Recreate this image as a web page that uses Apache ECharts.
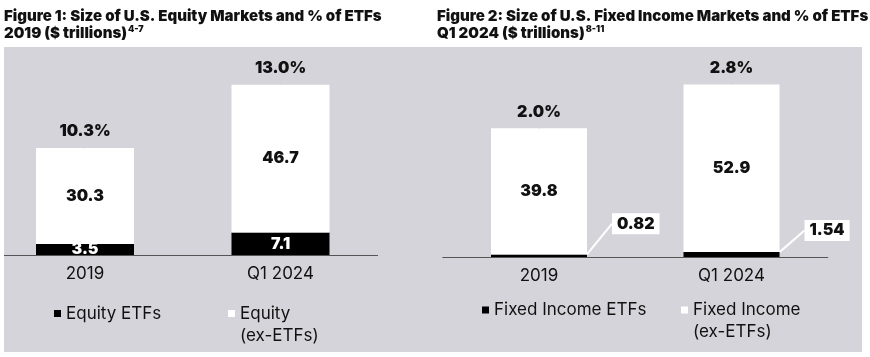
<!DOCTYPE html>
<html>
<head>
<meta charset="utf-8">
<script src="https://cdn.jsdelivr.net/npm/echarts@6/dist/echarts.min.js"></script>
<style>
html,body{margin:0;padding:0;background:#fff;}
#c{width:870px;height:357px;}
</style>
</head>
<body>
<div id="c"></div>
<script>
// ---- data ----
const categories = ['2019', 'Q1 2024'];
const equityEtf = [3.5, 7.1];
const equityEx = [30.3, 46.7];
const equityPct = ['10.3%', '13.0%'];
const fiEtf = [0.82, 1.54];
const fiEx = [39.8, 52.9];
const fiPct = ['2.0%', '2.8%'];

const FONT = 'Inter, "Noto Sans", sans-serif';
const INK = '#111111';
const PANEL = '#d5d4da';

const equityTotal = equityEtf.map((v, i) => +(v + equityEx[i]).toFixed(2));
const fiTotal = fiEtf.map((v, i) => +(v + fiEx[i]).toFixed(2));

const chart = echarts.init(document.getElementById('c'), null, {renderer: 'canvas'});

const boldLabel = {fontFamily: FONT, fontWeight: 900, fontSize: 16, textBorderWidth: 0, opacity: 1};

function legendCfg(name, left, top, multi) {
  return {
    data: [name],
    left: left, top: top, padding: 0,
    itemWidth: 7, itemHeight: 7, icon: 'rect',
    selectedMode: false,
    formatter: multi ? function (n) {
      const parts = n.split('\n');
      return '{s| }\n{t|' + parts[0] + '}\n{t|' + parts[1] + '}';
    } : undefined,
    textStyle: {
      fontFamily: FONT, fontSize: 17, color: INK, lineHeight: 22,
      rich: {
        s: {fontSize: 10, lineHeight: 22},
        t: {fontFamily: FONT, fontSize: 17, color: INK, lineHeight: 22}
      }
    }
  };
}

const titleRich = {
  a: {fontFamily: FONT, fontWeight: 900, fontSize: 15, color: INK, lineHeight: 17},
  sup: {fontFamily: FONT, fontWeight: 900, fontSize: 9, color: INK, lineHeight: 17, verticalAlign: 'top', padding: [0, 0, 4, 1]}
};

const option = {
  animation: false,
  backgroundColor: '#fff',
  graphic: [
    {type: 'rect', z: -10, silent: true, shape: {x: 4, y: 47, width: 858, height: 305}, style: {fill: PANEL}},
    {type: 'line', z: 5, silent: true, shape: {x1: 4, y1: 255.5, x2: 378, y2: 255.5}, style: {stroke: '#555', lineWidth: 1}}
  ],
  title: [
    {left: 4, top: 8, padding: 0, text: '{a|Figure 1: Size of U.S. Equity Markets and % of ETFs}\n{a|2019 ($ trillions)}{sup|4-7}', textStyle: {rich: titleRich}},
    {left: 437, top: 8, padding: 0, text: '{a|Figure 2: Size of U.S. Fixed Income Markets and % of ETFs}\n{a|Q1 2024 ($ trillions)}{sup|8-11}', textStyle: {rich: titleRich}}
  ],
  legend: [
    legendCfg('Equity ETFs', 54, 302.5, false),
    legendCfg('Equity\n(ex-ETFs)', 228, 280.5, true),
    legendCfg('Fixed Income ETFs', 482, 299, false),
    legendCfg('Fixed Income\n(ex-ETFs)', 681, 277, true)
  ],
  grid: [
    {left: -12.75, width: 391, top: 65, height: 190, containLabel: false, outerBoundsMode: 'none'},
    {left: 442.75, width: 385, top: 67, height: 190, containLabel: false, outerBoundsMode: 'none'}
  ],
  xAxis: [0, 1].map(i => ({
    type: 'category', gridIndex: i, data: categories,
    axisLine: {show: i === 1, lineStyle: {color: '#555', width: 1}},
    axisTick: {show: false},
    axisLabel: {fontFamily: FONT, fontSize: 17, color: INK, margin: 10}
  })),
  yAxis: [0, 1].map(i => ({
    type: 'value', gridIndex: i, min: 0, max: 60, show: false, splitLine: {show: false}
  })),
  series: [
    {
      name: 'Equity ETFs', type: 'bar', stack: 'eq', xAxisIndex: 0, yAxisIndex: 0,
      barWidth: 98, data: equityEtf, itemStyle: {color: '#000'},
      label: Object.assign({show: true, position: 'inside', color: '#fff'}, boldLabel)
    },
    {
      name: 'Equity\n(ex-ETFs)', type: 'bar', stack: 'eq', xAxisIndex: 0, yAxisIndex: 0,
      barWidth: 98, data: equityEx, itemStyle: {color: '#fff'},
      label: Object.assign({show: true, position: 'inside', color: INK}, boldLabel)
    },
    {
      name: 'eqPct', type: 'scatter', xAxisIndex: 0, yAxisIndex: 0, symbolSize: 1,
      itemStyle: {color: PANEL, opacity: 1}, silent: true,
      data: equityTotal,
      label: Object.assign({show: true, position: 'top', distance: 8, color: INK,
        formatter: p => equityPct[p.dataIndex]}, boldLabel)
    },
    {
      name: 'Fixed Income ETFs', type: 'bar', stack: 'fi', xAxisIndex: 1, yAxisIndex: 1,
      barWidth: 96, data: fiEtf, itemStyle: {color: '#000'},
      label: Object.assign({show: true, position: 'right', distance: 25, color: INK,
        backgroundColor: '#fff', padding: [3, 5, 2, 5]}, boldLabel),
      labelLayout: function (params) {
        return {dy: params.dataIndex === 0 ? -32 : -24};
      },
      labelLine: {show: true, lineStyle: {color: '#fff', width: 2}}
    },
    {
      name: 'Fixed Income\n(ex-ETFs)', type: 'bar', stack: 'fi', xAxisIndex: 1, yAxisIndex: 1,
      barWidth: 96, data: fiEx, itemStyle: {color: '#fff'},
      label: Object.assign({show: true, position: 'inside', color: INK}, boldLabel)
    },
    {
      name: 'fiPct', type: 'scatter', xAxisIndex: 1, yAxisIndex: 1, symbolSize: 1,
      itemStyle: {color: PANEL, opacity: 1}, silent: true,
      data: fiTotal,
      label: Object.assign({show: true, position: 'top', distance: 8, color: INK,
        formatter: p => fiPct[p.dataIndex]}, boldLabel)
    }
  ]
};
chart.setOption(option);
</script>
</body>
</html>
